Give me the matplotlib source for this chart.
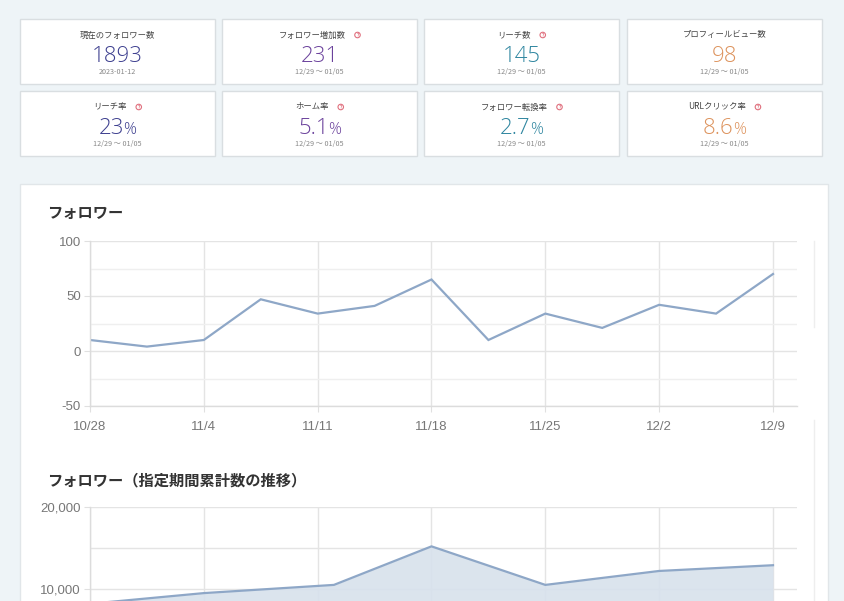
import matplotlib
matplotlib.use('Agg')
import matplotlib.pyplot as plt
import matplotlib.dates as mdates
import pandas as pd
from matplotlib.patches import Rectangle, Circle

plt.rcParams['font.family'] = ['Noto Sans CJK JP', 'DejaVu Sans']

W, H = 845, 601
BG = '#eef4f7'

# 上部のカード
card_titles = ['現在のフォロワー数', 'フォロワー増加数', 'リーチ数', 'プロフィールビュー数',
               'リーチ率', 'ホーム率', 'フォロワー転換率', 'URLクリック率']
card_values = ['1893', '231', '145', '98', '23', '5.1', '2.7', '8.6']
card_units = ['', '', '', '', '%', '%', '%', '%']
card_periods = ['2023-01-12'] + ['12/29 〜 01/05'] * 7
card_help = [False, True, True, False, True, True, True, True]
card_colors = ['#3d3f8f', '#6b429c', '#2f86a0', '#dd935d'] * 2

# フォロワー（増減）
follower_dates = ['2022-10-28 00:00', '2022-10-31 12:00', '2022-11-04 00:00', '2022-11-07 12:00',
                  '2022-11-11 00:00', '2022-11-14 12:00', '2022-11-18 00:00', '2022-11-21 12:00',
                  '2022-11-25 00:00', '2022-11-28 12:00', '2022-12-02 00:00', '2022-12-05 12:00',
                  '2022-12-09 00:00']
follower_values = [10, 4, 10, 47, 34, 41, 65, 10, 34, 21, 42, 34, 70]

# フォロワー（指定期間累計数の推移）
cum_dates = ['2022-10-28', '2022-11-04', '2022-11-12', '2022-11-18',
             '2022-11-25', '2022-12-02', '2022-12-09']
cum_values = [8200, 9500, 10500, 15200, 10500, 12200, 12900]

tick_dates = ['2022-10-28', '2022-11-04', '2022-11-11', '2022-11-18',
              '2022-11-25', '2022-12-02', '2022-12-09']

LINE = '#8ea7c7'
FILL = '#d7e1ec'
GRID = '#e4e4e4'
GRID_MINOR = '#efefef'
TICK_FONT = ['Liberation Sans', 'DejaVu Sans']
VALUE_FONT = ['Open Sans', 'Noto Sans', 'DejaVu Sans']


def fig_rect(x0, y0, x1, y1):
    """ピクセル座標(上原点) -> figure座標"""
    return [x0 / W, 1 - y1 / H, (x1 - x0) / W, (y1 - y0) / H]


fig = plt.figure(figsize=(W / 100, H / 100), dpi=100, facecolor=BG)
renderer = fig.canvas.get_renderer()

bg = fig.add_axes([0, 0, 1, 1])
bg.set_xlim(0, W)
bg.set_ylim(H, 0)
bg.axis('off')


def text_width(t):
    return t.get_window_extent(renderer).width


# カード描画
col_x = [20, 222, 424, 627]
row_y = [19, 91]
card_w, card_h = 195, 65
for i, title in enumerate(card_titles):
    x0 = col_x[i % 4]
    y0 = row_y[i // 4]
    cx = x0 + card_w / 2
    bg.add_patch(Rectangle((x0, y0), card_w, card_h, facecolor='white',
                           edgecolor='#d9dee1', lw=1))

    # タイトル + ヘルプアイコン
    t = bg.text(cx, y0 + 16, title, fontsize=6, color='#444', ha='center', va='center')
    if card_help[i]:
        w = text_width(t)
        gap, d = 9, 5.5
        total = w + gap + d
        left = cx - total / 2
        t.set_x(left + w / 2)
        ix = left + w + gap + d / 2
        bg.add_patch(Circle((ix, y0 + 16), d / 2, fill=False, ec='#e0707e', lw=0.8))
        bg.text(ix, y0 + 16.3, '?', fontsize=3.2, color='#e0707e',
                ha='center', va='center', fontweight='bold')

    # 値
    tv = bg.text(0, y0 + 43, card_values[i], fontsize=16, color=card_colors[i],
                 ha='left', va='baseline', family=VALUE_FONT, fontweight='light')
    wv = text_width(tv)
    wu = 0
    shift = 0
    if card_units[i]:
        tu = bg.text(0, y0 + 43, card_units[i], fontsize=11.5, color=card_colors[i],
                     ha='left', va='baseline', family=VALUE_FONT, fontweight='light')
        wu = text_width(tu)
        shift = -1
    start = cx - (wv + wu + shift) / 2
    tv.set_x(start)
    if card_units[i]:
        tu.set_x(start + wv + shift)

    bg.text(cx, y0 + 53, card_periods[i], fontsize=5.2, color='#888',
            ha='center', va='center')

# グラフのパネル
bg.add_patch(Rectangle((20, 184), 808, 430, facecolor='white', edgecolor='#e1e6e9', lw=1))
bg.text(47, 213, 'フォロワー', fontsize=11, fontweight='bold', color='#333',
        ha='left', va='center')
bg.text(47, 480, 'フォロワー（指定期間累計数の推移）', fontsize=11, fontweight='bold',
        color='#333', ha='left', va='center')
# 右端の細い線
bg.plot([814, 814], [241, 327], color='#eeeeee', lw=1)
bg.plot([814, 814], [420, 601], color='#eeeeee', lw=1)

fx = mdates.date2num(pd.to_datetime(follower_dates, format='mixed'))
cx_ = mdates.date2num(pd.to_datetime(cum_dates))
tx = mdates.date2num(pd.to_datetime(tick_dates))
tick_labels = [f'{d.month}/{d.day}' for d in pd.to_datetime(tick_dates)]
x_left = tx[0]
x_right = tx[0] + (tx[-1] - tx[0]) * 707 / 683


def style_axes(ax, xlabels):
    ax.set_facecolor('none')
    for s in ['top', 'right']:
        ax.spines[s].set_visible(False)
    for s in ['left', 'bottom']:
        ax.spines[s].set_color('#dcdcdc')
        ax.spines[s].set_linewidth(1)
    ax.set_xlim(x_left, x_right)
    ax.set_xticks(tx, labels=xlabels, fontfamily=TICK_FONT)
    ax.grid(True, which='major', color=GRID, lw=1)
    ax.grid(True, which='minor', axis='y', color=GRID_MINOR, lw=1)
    ax.set_axisbelow(True)
    ax.tick_params(which='major', length=4, color='#e0e0e0', labelcolor='#777',
                   labelsize=9.5)
    ax.tick_params(axis='x', pad=6.5)
    ax.tick_params(axis='y', pad=2.5)
    ax.tick_params(which='minor', length=0)


# フォロワー
ax1 = fig.add_axes(fig_rect(90, 241, 797, 406))
style_axes(ax1, tick_labels)
ax1.set_ylim(-50, 100)
ax1.set_yticks([-50, 0, 50, 100], labels=['-50', '0', '50', '100'], fontfamily=TICK_FONT)
ax1.set_yticks([-25, 25, 75], minor=True)
ax1.plot(fx, follower_values, color=LINE, lw=1.6, solid_joinstyle='miter')

# 累計（下側は画面外）
ax2 = fig.add_axes(fig_rect(90, 507, 797, 671))
style_axes(ax2, [''] * len(tx))
ax2.set_ylim(0, 20000)
ax2.set_yticks([0, 10000, 20000], labels=['', '10,000', '20,000'], fontfamily=TICK_FONT)
ax2.set_yticks([5000, 15000], minor=True)
ax2.grid(True, which='minor', axis='y', color=GRID, lw=1)
ax2.fill_between(cx_, cum_values, 0, color=FILL, alpha=0.9, lw=0)
ax2.plot(cx_, cum_values, color=LINE, lw=1.6)

fig.savefig('out.png', dpi=100, facecolor=BG)
